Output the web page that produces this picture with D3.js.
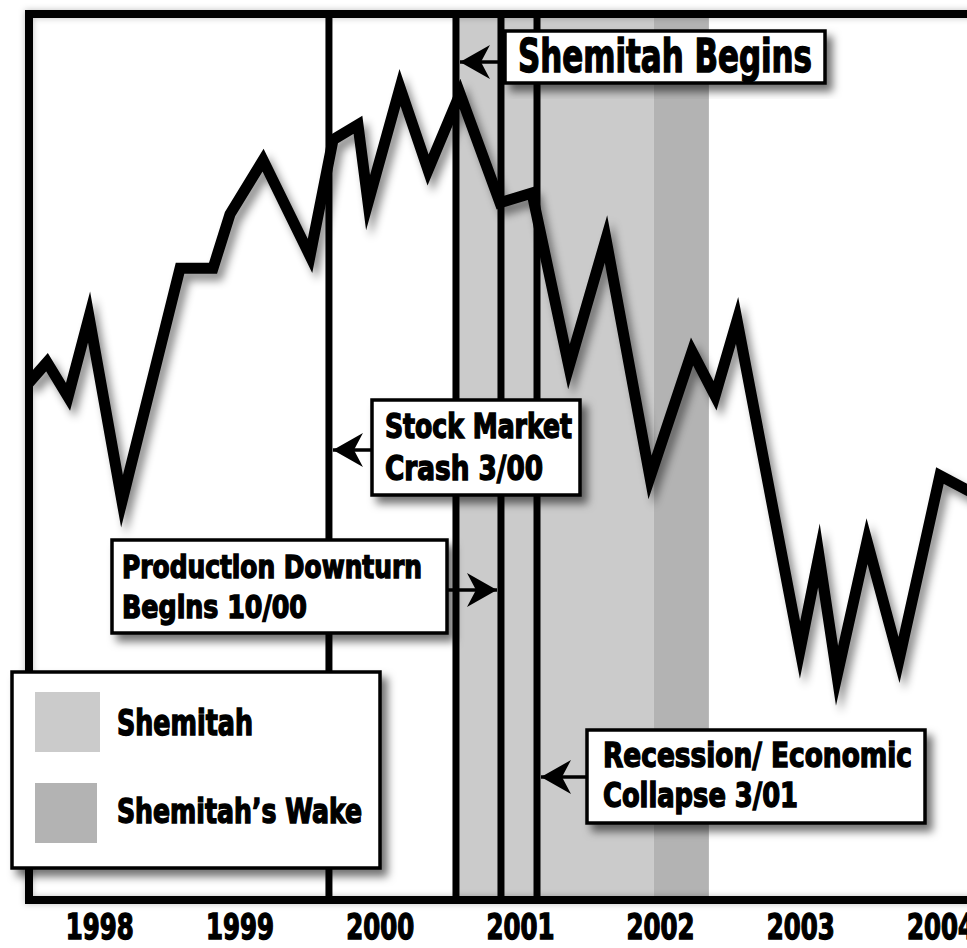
<!DOCTYPE html>
<html>
<head>
<meta charset="utf-8">
<script src="https://cdn.jsdelivr.net/npm/d3@7"></script>
<style>
  html, body { margin: 0; padding: 0; background: #fff; overflow: hidden; }
  svg { display: block; }
  text { font-family: "Liberation Sans Narrow", "DejaVu Sans Condensed", "Arial Narrow", sans-serif; font-weight: bold; fill: #000; }
</style>
</head>
<body>
<script>
// ---------------- DATA ----------------
const yearTicks = [1998, 1999, 2000, 2001, 2002, 2003, 2004];
const tickLabels = ["1998", "1999", "2000", "2001", "2002", "2003", "2004"];

// series: position along the (illustrative) time axis, in years
const seriesX = [1997.499, 1997.627, 1997.777, 1997.927, 1998.162, 1998.576, 1998.811, 1998.932,
  1999.168, 1999.503, 1999.667, 1999.845, 1999.917, 2000.145, 2000.345, 2000.573, 2000.858,
  2001.086, 2001.350, 2001.614, 2001.928, 2002.228, 2002.392, 2002.549, 2002.998, 2003.133,
  2003.262, 2003.476, 2003.704, 2003.996, 2004.246];
// series: index value (unlabelled axis, 0-100)
const seriesY = [58.4, 60.7, 56.8, 65.8, 45.0, 71.3, 71.3, 77.4,
  83.5, 72.7, 85.8, 87.5, 78.7, 91.7, 82.4, 91.0, 78.7,
  79.8, 60.2, 74.6, 47.7, 61.9, 56.9, 65.4, 28.2, 38.9,
  25.3, 40.5, 27.1, 47.9, 45.8];

const eventNames = ["Stock Market Crash 3/00", "Shemitah Begins", "Production Downturn Begins 10/00", "Recession/ Economic Collapse 3/01"];
const eventX = [1999.638, 2000.544, 2000.865, 2001.122];

const bandNames = ["Shemitah", "Shemitah\u2019s Wake"];
const bandStart = [2000.544, 2001.956];
const bandEnd = [2001.956, 2002.348];

// ---------------- LAYOUT ----------------
const W = 967, H = 948;
const frame = { left: 29, top: 14, right: 1005, bottom: 900 };
const bandColors = ["#cbcbcb", "#b3b3b3"];

const x = d3.scaleLinear().domain([1998, 2004]).range([99.3, 940.5]);
const y = d3.scaleLinear().domain([0, 100]).range([frame.bottom, frame.top]);

// callout layout (pixels), one per event
const callouts = [
  { box: [372, 400, 208, 95], lines: [["Stock Market", 385, 438, 187, 34], ["Crash 3/00", 385, 480, 158, 34]], arrowY: 450, dir: "left" },
  { box: [505, 31, 320, 52], lines: [["Shemitah Begins", 518, 72, 294, 46]], arrowY: 62, dir: "left" },
  { box: [112, 540, 335, 93], lines: [["Production Downturn", 122, 578, 300, 32], ["Begins 10/00", 122, 618, 185, 32]], arrowY: 590, dir: "right" },
  { box: [587, 730, 338, 93], lines: [["Recession/ Economic", 603, 767, 309, 34], ["Collapse 3/01", 603, 807, 195, 34]], arrowY: 777, dir: "left" }
];

const svg = d3.select("body").append("svg").attr("width", W).attr("height", H);
const defs = svg.append("defs");

const f1 = defs.append("filter").attr("id", "lineShadow").attr("x", "-10%").attr("y", "-10%").attr("width", "130%").attr("height", "130%");
f1.append("feDropShadow").attr("dx", 5).attr("dy", 7).attr("stdDeviation", 4).attr("flood-color", "#000").attr("flood-opacity", 0.45);
const f2 = defs.append("filter").attr("id", "boxShadow").attr("x", "-10%").attr("y", "-20%").attr("width", "130%").attr("height", "150%");
f2.append("feDropShadow").attr("dx", 6).attr("dy", 7).attr("stdDeviation", 4).attr("flood-color", "#000").attr("flood-opacity", 0.55);
const f3 = defs.append("filter").attr("id", "frameShadow").attr("x", "-5%").attr("y", "-5%").attr("width", "110%").attr("height", "110%");
f3.append("feDropShadow").attr("dx", 0).attr("dy", 0).attr("stdDeviation", 3).attr("flood-color", "#000").attr("flood-opacity", 0.25);

defs.append("clipPath").attr("id", "plotClip").append("rect")
  .attr("x", frame.left).attr("y", frame.top)
  .attr("width", frame.right - frame.left).attr("height", frame.bottom - frame.top);

// bands
svg.append("g").selectAll("rect").data(bandStart).join("rect")
  .attr("x", (d, i) => x(d))
  .attr("y", frame.top)
  .attr("width", (d, i) => x(bandEnd[i]) - x(d))
  .attr("height", frame.bottom - frame.top)
  .attr("fill", (d, i) => bandColors[i]);

// event lines
svg.append("g").selectAll("line").data(eventX).join("line")
  .attr("x1", d => x(d)).attr("x2", d => x(d))
  .attr("y1", frame.top).attr("y2", frame.bottom)
  .attr("stroke", "#000").attr("stroke-width", 7);

// frame
svg.append("rect")
  .attr("x", frame.left).attr("y", frame.top)
  .attr("width", frame.right - frame.left).attr("height", frame.bottom - frame.top)
  .attr("fill", "none").attr("stroke", "#000").attr("stroke-width", 8)
  .attr("filter", "url(#frameShadow)");

// data line
const pts = seriesX.map((d, i) => [d, seriesY[i]]);
svg.append("g").attr("clip-path", "url(#plotClip)")
  .append("path")
  .attr("d", d3.line().x(d => x(d[0])).y(d => y(d[1]))(pts))
  .attr("fill", "none").attr("stroke", "#000").attr("stroke-width", 11)
  .attr("stroke-linejoin", "miter").attr("stroke-miterlimit", 20)
  .attr("filter", "url(#lineShadow)");

// callouts
callouts.forEach((c, i) => {
  const g = svg.append("g");
  const [bx, by, bw, bh] = c.box;
  const ex = x(eventX[i]);
  const tipX = c.dir === "left" ? ex + 4 : ex - 4;
  const startX = c.dir === "left" ? bx : bx + bw;
  g.append("line").attr("x1", startX).attr("x2", tipX).attr("y1", c.arrowY).attr("y2", c.arrowY)
    .attr("stroke", "#000").attr("stroke-width", 3.5);
  const s = c.dir === "left" ? 1 : -1;
  g.append("path")
    .attr("d", `M${tipX},${c.arrowY} L${tipX + s * 30},${c.arrowY - 17} L${tipX + s * 21},${c.arrowY} L${tipX + s * 30},${c.arrowY + 17} Z`)
    .attr("fill", "#000");
  g.append("rect").attr("x", bx).attr("y", by).attr("width", bw).attr("height", bh)
    .attr("fill", "#fff").attr("stroke", "#000").attr("stroke-width", 3.5)
    .attr("filter", "url(#boxShadow)");
  c.lines.forEach(l => {
    g.append("text").attr("x", l[1]).attr("y", l[2])
      .attr("font-size", l[4])
      .attr("textLength", l[3]).attr("lengthAdjust", "spacingAndGlyphs")
      .attr("stroke", "#000").attr("stroke-width", 1.4)
      .text(l[0]);
  });
});

// legend
const lg = svg.append("g");
lg.append("rect").attr("x", 12).attr("y", 672).attr("width", 368).attr("height", 196)
  .attr("fill", "#fff").attr("stroke", "#000").attr("stroke-width", 3.5)
  .attr("filter", "url(#boxShadow)");
const legendRows = [
  { sw: [35, 692, 65, 60], tx: [117, 735, 136, 36] },
  { sw: [35, 783, 62, 60], tx: [117, 823, 245, 34] }
];
bandNames.forEach((n, i) => {
  const r = legendRows[i];
  lg.append("rect").attr("x", r.sw[0]).attr("y", r.sw[1]).attr("width", r.sw[2]).attr("height", r.sw[3])
    .attr("fill", bandColors[i]);
  lg.append("text").attr("x", r.tx[0]).attr("y", r.tx[1]).attr("font-size", r.tx[3])
    .attr("textLength", r.tx[2]).attr("lengthAdjust", "spacingAndGlyphs")
    .attr("stroke", "#000").attr("stroke-width", 1.4)
    .text(n);
});

// x axis labels
const axis = d3.axisBottom(x).tickValues(yearTicks).tickFormat((d, i) => tickLabels[i]).tickSize(0).tickPadding(0);
const ax = svg.append("g").attr("transform", `translate(0,${frame.bottom})`).call(axis);
ax.select(".domain").remove();
ax.selectAll("text")
  .attr("dy", null).attr("y", 39)
  .attr("font-size", 36)
  .attr("textLength", 68).attr("lengthAdjust", "spacingAndGlyphs")
  .attr("stroke", "#000").attr("stroke-width", 1.4)
  .style("font-family", "\"Liberation Sans Narrow\", \"DejaVu Sans Condensed\", sans-serif")
  .style("font-weight", "bold");
</script>
</body>
</html>
